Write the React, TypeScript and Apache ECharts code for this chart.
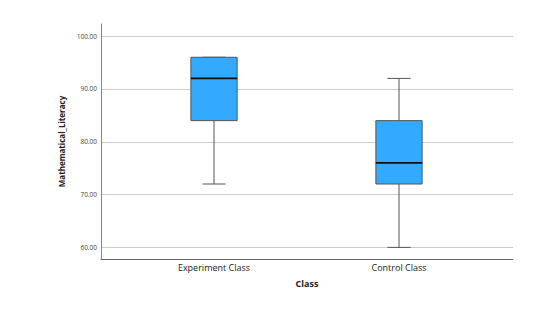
import React, { useEffect, useRef } from "react";
import * as echarts from "echarts";

const categories = ["Experiment Class", "Control Class"];
const minVals = [72, 60];
const q1Vals = [84, 72];
const medianVals = [92, 76];
const q3Vals = [96, 84];
const maxVals = [96, 92];
const yTicks = [60, 70, 80, 90, 100];

const FONT = "Open Sans";

export default function App() {
  const ref = useRef<HTMLDivElement>(null);
  useEffect(() => {
    if (!ref.current) return;
    const chart = echarts.init(ref.current, null, { renderer: "svg" });
    const data = categories.map((c, i) => [i, minVals[i], q1Vals[i], medianVals[i], q3Vals[i], maxVals[i]]);
    const yMin = yTicks[0] - 2.2;
    const yMax = yTicks[yTicks.length - 1] + 2.3;
    const gridColors = ["rgba(0,0,0,0)", ...yTicks.map(() => "#cccccc"), "rgba(0,0,0,0)"];
    chart.setOption({
      animation: false,
      grid: [
        { left: 101, right: 47, top: 24, bottom: 50 },
        { left: 121.5, right: 68.5, top: 24, bottom: 50 },
      ],
      xAxis: [
        {
          gridIndex: 0,
          type: "category",
          data: categories,
          name: "Class",
          nameLocation: "middle",
          nameGap: 20,
          nameTextStyle: { fontFamily: FONT, fontWeight: "bold", fontSize: 9, color: "#222" },
          axisLine: { show: true, lineStyle: { color: "#666", width: 1 } },
          axisTick: { show: false },
          axisLabel: { show: false },
          splitLine: { show: false },
        },
        {
          gridIndex: 1,
          type: "category",
          data: categories,
          axisLine: { show: false },
          axisTick: { show: false },
          axisLabel: { fontFamily: FONT, fontSize: 9, color: "#222", margin: 4 },
          splitLine: { show: false },
        },
      ],
      yAxis: [
        {
          gridIndex: 0,
          type: "value",
          min: yMin,
          max: yMax,
          name: "Mathematical_Literacy",
          nameLocation: "middle",
          nameGap: 35,
          nameTextStyle: { fontFamily: FONT, fontWeight: "bold", fontSize: 8, color: "#222" },
          axisLine: { show: true, lineStyle: { color: "#888", width: 1 } },
          axisTick: { show: false },
          axisLabel: {
            fontFamily: FONT,
            fontSize: 6.5,
            color: "#444",
            margin: 4,
            showMinLabel: false,
            showMaxLabel: false,
            formatter: (v: number) => (yTicks.includes(Math.round(v * 100) / 100) ? v.toFixed(2) : ""),
          },
          splitLine: { show: true, lineStyle: { color: gridColors, width: 1 } },
        },
        {
          gridIndex: 1,
          type: "value",
          min: yMin,
          max: yMax,
          show: false,
          splitLine: { show: false },
        },
      ],
      series: [
        {
          type: "custom",
          xAxisIndex: 1,
          yAxisIndex: 1,
          data,
          encode: { x: 0, y: [1, 2, 3, 4, 5] },
          renderItem: (params: any, api: any) => {
            const x = api.value(0);
            const pMin = api.coord([x, api.value(1)]);
            const pQ1 = api.coord([x, api.value(2)]);
            const pMed = api.coord([x, api.value(3)]);
            const pQ3 = api.coord([x, api.value(4)]);
            const pMax = api.coord([x, api.value(5)]);
            const band = api.size([1, 0])[0];
            const bw = band * 0.25;
            const cap = bw / 2;
            const cx = pMed[0];
            const lineStyle = { stroke: "#555", lineWidth: 1, fill: null };
            return {
              type: "group",
              children: [
                { type: "line", shape: { x1: cx, y1: pQ3[1], x2: cx, y2: pMax[1] }, style: lineStyle },
                { type: "line", shape: { x1: cx, y1: pQ1[1], x2: cx, y2: pMin[1] }, style: lineStyle },
                { type: "line", shape: { x1: cx - cap / 2, y1: pMax[1], x2: cx + cap / 2, y2: pMax[1] }, style: lineStyle },
                { type: "line", shape: { x1: cx - cap / 2, y1: pMin[1], x2: cx + cap / 2, y2: pMin[1] }, style: lineStyle },
                {
                  type: "rect",
                  shape: { x: cx - bw / 2, y: pQ3[1], width: bw, height: pQ1[1] - pQ3[1] },
                  style: { fill: "#33aaff", stroke: "#555", lineWidth: 1 },
                },
                {
                  type: "line",
                  shape: { x1: cx - bw / 2, y1: pMed[1], x2: cx + bw / 2, y2: pMed[1] },
                  style: { stroke: "#111", lineWidth: 1.6 },
                },
              ],
            };
          },
        },
      ],
    });
    return () => chart.dispose();
  }, []);
  return <div ref={ref} style={{ width: 560, height: 309, margin: -8 }} />;
}
